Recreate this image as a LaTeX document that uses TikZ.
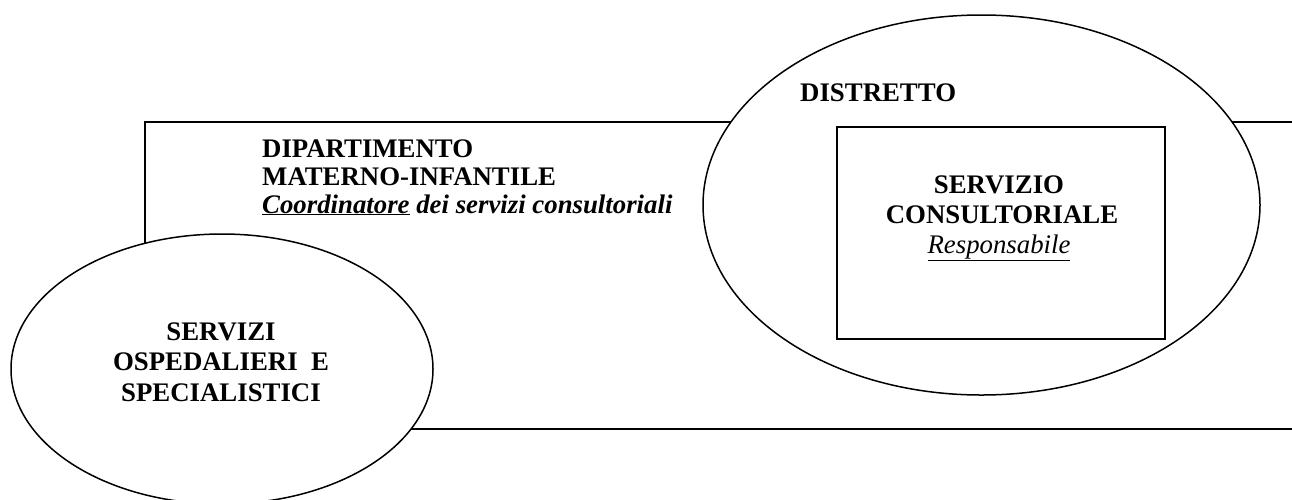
\documentclass[tikz,border=0pt]{standalone}
\usepackage{fontspec}
\setmainfont{Liberation Serif}
\begin{document}
\begin{tikzpicture}[x=1pt,y=-1pt,
  outline/.style={line width=1.5pt,draw=black},
  whiteshape/.style={outline,fill=white},
  lbl/.style={inner sep=0pt,font=\fontsize{26.8}{28}\selectfont\bfseries},
  lblit/.style={inner sep=0pt,font=\fontsize{26.8}{28}\selectfont\itshape}]
\useasboundingbox (0,0) rectangle (1292,499);
% department band (open to the right)
\coordinate (dtr) at (1292,122);
\coordinate (dtl) at (145,122);
\coordinate (dbl) at (145,429);
\coordinate (dbr) at (1292,429);
\fill[white] (dtl) rectangle (dbr);
\draw[outline] (dtr) -- (dtl) -- (dbl) -- (dbr);
% ellipses
\draw[whiteshape] (981.5,205) ellipse [x radius=278.5, y radius=190];
\draw[whiteshape] (222,369) ellipse [x radius=211, y radius=135];
% inner box
\draw[outline] (837,127) rectangle (1165,339);
% texts
\node[lbl,anchor=base west] (dip1) at (262,157) {DIPARTIMENTO};
\node[lbl,anchor=base west] (dip2) at (262,185) {MATERNO-INFANTILE};
\node[lbl,anchor=base west] (dip3) at (262,213) {\itshape\underline{Coordinatore} dei servizi consultoriali};
\node[lbl,anchor=base west] (dist) at (800,101) {DISTRETTO};
\node[lbl,anchor=base] (sc1) at (999,193) {SERVIZIO};
\node[lbl,anchor=base] (sc2) at (1002,223) {CONSULTORIALE};
\node[lblit,anchor=base] (sc3) at (999,253) {\underline{Responsabile}};
\node[lbl,anchor=base] (os1) at (221,340) {SERVIZI};
\node[lbl,anchor=base] (os2) at (221,370) {OSPEDALIERI\ \ E};
\node[lbl,anchor=base] (os3) at (221,401) {SPECIALISTICI};
\end{tikzpicture}
\end{document}
